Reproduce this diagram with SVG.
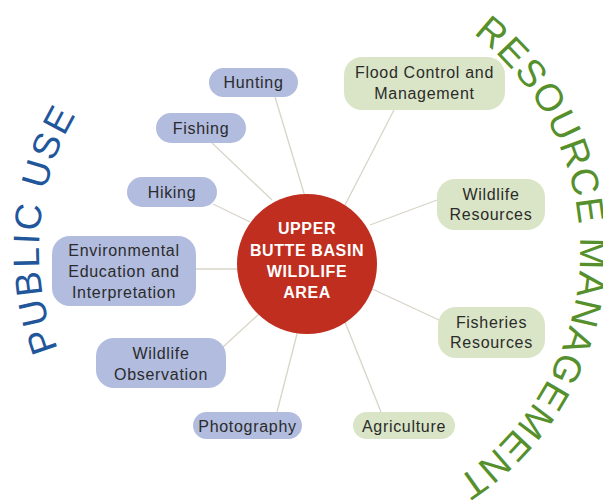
<svg xmlns="http://www.w3.org/2000/svg" width="603" height="500" viewBox="0 0 603 500">
<style>
.bg{fill:#ffffff}
.blue{fill:#b1bcdf}
.green{fill:#d9e5c6}
.lbl{font-family:"Liberation Sans",Arial,sans-serif;font-size:16px;letter-spacing:0.7px;fill:#2b2b2b;text-anchor:middle}
.ctr{font-family:"Liberation Sans",Arial,sans-serif;font-size:16px;font-weight:bold;letter-spacing:0.6px;fill:#ffffff;text-anchor:middle}
.conn line{stroke:#d8d4c8;stroke-width:1.3}
.arc{font-family:"Liberation Sans",Arial,sans-serif}
</style>
<defs>
<path id="pu" d="M 88.2 404.1 A 266 266 0 0 1 115.6 63.2"/>
<path id="rm" d="M 409 -3 A 273 273 0 0 1 388 511"/>
</defs>
<rect class="bg" x="0" y="0" width="603" height="500"/>
<g id="connectors" class="conn">
<line x1="275" y1="97" x2="306" y2="200"/>
<line x1="212" y1="143" x2="272" y2="200"/>
<line x1="213" y1="204" x2="250" y2="222"/>
<line x1="196" y1="269" x2="240" y2="269"/>
<line x1="223" y1="347" x2="260" y2="313"/>
<line x1="277" y1="412" x2="298" y2="330"/>
<line x1="381" y1="412" x2="345" y2="322"/>
<line x1="439" y1="320" x2="370" y2="288"/>
<line x1="437" y1="200" x2="370" y2="225"/>
<line x1="394" y1="110" x2="345" y2="205"/>
</g>
<g id="center">
<circle cx="307" cy="264" r="70" fill="#bf2e1f"/>
<text class="ctr" x="307" y="234">UPPER</text>
<text class="ctr" x="307" y="256">BUTTE BASIN</text>
<text class="ctr" x="307" y="277">WILDLIFE</text>
<text class="ctr" x="307" y="298">AREA</text>
</g>
<g id="hunting"><rect class="blue" x="209" y="68" width="89" height="29" rx="14.5"/><text class="lbl" x="253.5" y="88">Hunting</text></g>
<g id="fishing"><rect class="blue" x="156" y="113" width="90" height="30" rx="15"/><text class="lbl" x="201" y="133.5">Fishing</text></g>
<g id="hiking"><rect class="blue" x="127" y="177" width="90" height="30" rx="15"/><text class="lbl" x="172" y="197.5">Hiking</text></g>
<g id="environmental"><rect class="blue" x="52" y="236" width="144" height="70" rx="18"/><text class="lbl" x="124" y="256">Environmental</text><text class="lbl" x="124" y="277">Education and</text><text class="lbl" x="124" y="298">Interpretation</text></g>
<g id="wildlife-observation"><rect class="blue" x="96" y="338" width="130" height="50" rx="18"/><text class="lbl" x="161" y="358.5">Wildlife</text><text class="lbl" x="161" y="379.5">Observation</text></g>
<g id="photography"><rect class="blue" x="193" y="412" width="109" height="27" rx="13.5"/><text class="lbl" x="247.5" y="431.5">Photography</text></g>
<g id="agriculture"><rect class="green" x="353" y="412" width="102" height="27" rx="13.5"/><text class="lbl" x="404" y="431.5">Agriculture</text></g>
<g id="fisheries-resources"><rect class="green" x="438" y="307" width="107" height="51" rx="18"/><text class="lbl" x="491.5" y="327.5">Fisheries</text><text class="lbl" x="491.5" y="348">Resources</text></g>
<g id="wildlife-resources"><rect class="green" x="437" y="179" width="108" height="51" rx="18"/><text class="lbl" x="491" y="199.5">Wildlife</text><text class="lbl" x="491" y="220">Resources</text></g>
<g id="flood-control"><rect class="green" x="344" y="57" width="161" height="53" rx="18"/><text class="lbl" x="424.5" y="77.5">Flood Control and</text><text class="lbl" x="424.5" y="98.5">Management</text></g>
<g id="public-use"><text class="arc" font-size="37" fill="#21569b" letter-spacing="2.5"><textPath href="#pu" startOffset="50%" text-anchor="middle">PUBLIC USE</textPath></text></g>
<g id="resource-management"><text class="arc" font-size="38" fill="#55902c" letter-spacing="1.3"><textPath href="#rm" startOffset="50%" text-anchor="middle">RESOURCE MANAGEMENT</textPath></text></g>
</svg>
